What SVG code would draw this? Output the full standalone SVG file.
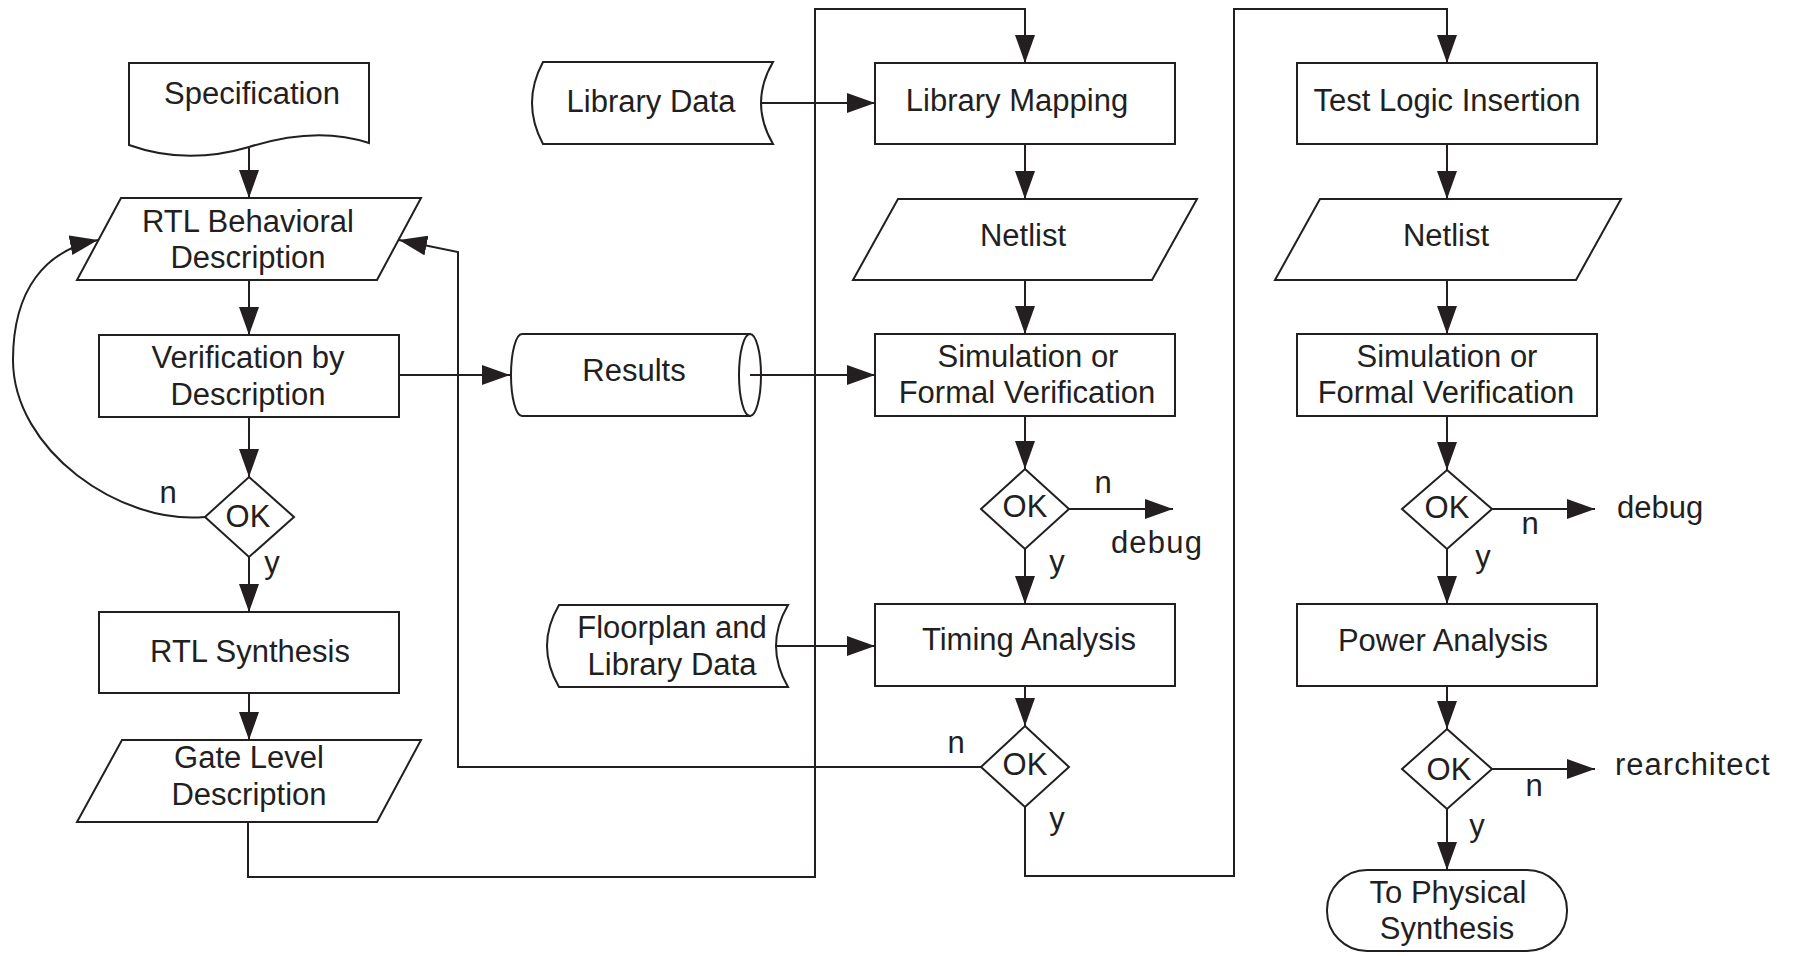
<svg xmlns="http://www.w3.org/2000/svg" width="1793" height="956" viewBox="0 0 1793 956">
<style>
.s{fill:#fff;stroke:#231f20;stroke-width:2}
.c{fill:none;stroke:#231f20;stroke-width:2}
text{font-family:"Liberation Sans",Arial,sans-serif;font-size:31px;fill:#231f20}
.m{text-anchor:middle}
</style>
<defs>
<marker id="ah" markerUnits="userSpaceOnUse" markerWidth="28" markerHeight="20" refX="28" refY="10" orient="auto">
<path d="M0,0 L28,10 L0,20 Z" fill="#231f20"/>
</marker>
</defs>
<rect width="1793" height="956" fill="#fff"/>

<g id="spec">
<path class="s" d="M129,63 L369,63 L369,143 C330,130 290,134 249,147 C205,160 165,158 129,145 Z"/>
<text class="m" x="252" y="104">Specification</text>
</g>
<g id="rtl-behav">
<polygon class="s" points="121,198 421,198 377,280 77,280"/>
<text class="m" x="248" y="232">RTL Behavioral</text>
<text class="m" x="248" y="268">Description</text>
</g>
<g id="verif">
<rect class="s" x="99" y="335" width="300" height="82"/>
<text class="m" x="248" y="368">Verification by</text>
<text class="m" x="248" y="405">Description</text>
</g>
<g id="ok1">
<polygon class="s" points="249,477 294,517 249,557 205,517"/>
<text class="m" x="248" y="527">OK</text>
</g>
<g id="rtl-synth">
<rect class="s" x="99" y="612" width="300" height="81"/>
<text class="m" x="250" y="662">RTL Synthesis</text>
</g>
<g id="gate">
<polygon class="s" points="122,740 421,740 377,822 77,822"/>
<text class="m" x="249" y="768">Gate Level</text>
<text class="m" x="249" y="805">Description</text>
</g>

<g id="libdata">
<path class="s" d="M543,62 L773,62 Q749,103 773,144 L543,144 Q521,103 543,62 Z"/>
<text class="m" x="651" y="112">Library Data</text>
</g>
<g id="results">
<path class="s" d="M750,334 L522,334 A11,41 0 0 0 522,416 L750,416 Z"/>
<ellipse class="s" cx="750" cy="375" rx="11" ry="41"/>
<text class="m" x="634" y="381">Results</text>
</g>
<g id="floorplan">
<path class="s" d="M559,605 L788,605 Q764,646 788,687 L559,687 Q535,646 559,605 Z"/>
<text class="m" x="672" y="638">Floorplan and</text>
<text class="m" x="672" y="675">Library Data</text>
</g>

<g id="libmap">
<rect class="s" x="875" y="63" width="300" height="81"/>
<text class="m" x="1017" y="111">Library Mapping</text>
</g>
<g id="netlist2">
<polygon class="s" points="898,199 1197,199 1152,280 853,280"/>
<text class="m" x="1023" y="246">Netlist</text>
</g>
<g id="sim2">
<rect class="s" x="875" y="334" width="300" height="82"/>
<text class="m" x="1028" y="367">Simulation or</text>
<text class="m" x="1027" y="403">Formal Verification</text>
</g>
<g id="ok2">
<polygon class="s" points="1025,469 1069,509 1025,549 981,509"/>
<text class="m" x="1025" y="517">OK</text>
</g>
<g id="timing">
<rect class="s" x="875" y="604" width="300" height="82"/>
<text class="m" x="1029" y="650">Timing Analysis</text>
</g>
<g id="ok3">
<polygon class="s" points="1025,726 1069,767 1025,807 981,767"/>
<text class="m" x="1025" y="775">OK</text>
</g>

<g id="testlogic">
<rect class="s" x="1297" y="63" width="300" height="81"/>
<text class="m" x="1447" y="111">Test Logic Insertion</text>
</g>
<g id="netlist3">
<polygon class="s" points="1320,199 1621,199 1576,280 1275,280"/>
<text class="m" x="1446" y="246">Netlist</text>
</g>
<g id="sim3">
<rect class="s" x="1297" y="334" width="300" height="82"/>
<text class="m" x="1447" y="367">Simulation or</text>
<text class="m" x="1446" y="403">Formal Verification</text>
</g>
<g id="ok4">
<polygon class="s" points="1447,470 1492,509 1447,549 1402,509"/>
<text class="m" x="1447" y="518">OK</text>
</g>
<g id="power">
<rect class="s" x="1297" y="604" width="300" height="82"/>
<text class="m" x="1443" y="651">Power Analysis</text>
</g>
<g id="ok5">
<polygon class="s" points="1447,729 1492,769 1447,809 1402,769"/>
<text class="m" x="1449" y="780">OK</text>
</g>
<g id="phys">
<rect class="s" x="1327" y="870" width="240" height="81" rx="40" ry="40"/>
<text class="m" x="1448" y="903">To Physical</text>
<text class="m" x="1447" y="939">Synthesis</text>
</g>

<g id="connectors">
<path class="c" d="M249,147 L249,198" marker-end="url(#ah)"/>
<path class="c" d="M249,280 L249,335" marker-end="url(#ah)"/>
<path class="c" d="M249,417 L249,477" marker-end="url(#ah)"/>
<path class="c" d="M249,557 L249,612" marker-end="url(#ah)"/>
<path class="c" d="M249,693 L249,740" marker-end="url(#ah)"/>
<path class="c" d="M205,517 C120,525 13,450 13,360 C13,290 45,250 98,240" marker-end="url(#ah)"/>
<path class="c" d="M248,822 L248,877 L815,877 L815,9 L1025,9 L1025,63" marker-end="url(#ah)"/>
<path class="c" d="M399,375 L510,375" marker-end="url(#ah)"/>
<path class="c" d="M761,103 L875,103" marker-end="url(#ah)"/>
<path class="c" d="M750,375 L875,375" marker-end="url(#ah)"/>
<path class="c" d="M1025,144 L1025,199" marker-end="url(#ah)"/>
<path class="c" d="M1025,280 L1025,334" marker-end="url(#ah)"/>
<path class="c" d="M1025,416 L1025,469" marker-end="url(#ah)"/>
<path class="c" d="M1069,509 L1173,509" marker-end="url(#ah)"/>
<path class="c" d="M1025,549 L1025,604" marker-end="url(#ah)"/>
<path class="c" d="M776,646 L875,646" marker-end="url(#ah)"/>
<path class="c" d="M1025,686 L1025,726" marker-end="url(#ah)"/>
<path class="c" d="M981,767 L458,767 L458,252 L399,240" marker-end="url(#ah)"/>
<path class="c" d="M1025,807 L1025,876 L1234,876 L1234,9 L1447,9 L1447,63" marker-end="url(#ah)"/>
<path class="c" d="M1447,144 L1447,199" marker-end="url(#ah)"/>
<path class="c" d="M1447,280 L1447,334" marker-end="url(#ah)"/>
<path class="c" d="M1447,416 L1447,470" marker-end="url(#ah)"/>
<path class="c" d="M1492,509 L1595,509" marker-end="url(#ah)"/>
<path class="c" d="M1447,549 L1447,604" marker-end="url(#ah)"/>
<path class="c" d="M1447,686 L1447,729" marker-end="url(#ah)"/>
<path class="c" d="M1492,769 L1595,769" marker-end="url(#ah)"/>
<path class="c" d="M1447,809 L1447,870" marker-end="url(#ah)"/>
<text class="m" x="168" y="503">n</text>
<text class="m" x="272" y="573">y</text>
<text class="m" x="1103" y="493">n</text>
<text class="m" x="1157" y="553" letter-spacing="1.2">debug</text>
<text class="m" x="1057" y="572">y</text>
<text class="m" x="956" y="753">n</text>
<text class="m" x="1057" y="829">y</text>
<text x="1617" y="518">debug</text>
<text class="m" x="1530" y="534">n</text>
<text class="m" x="1483" y="567">y</text>
<text x="1615" y="775" letter-spacing="1">rearchitect</text>
<text class="m" x="1534" y="796">n</text>
<text class="m" x="1477" y="836">y</text>
</g>
</svg>
